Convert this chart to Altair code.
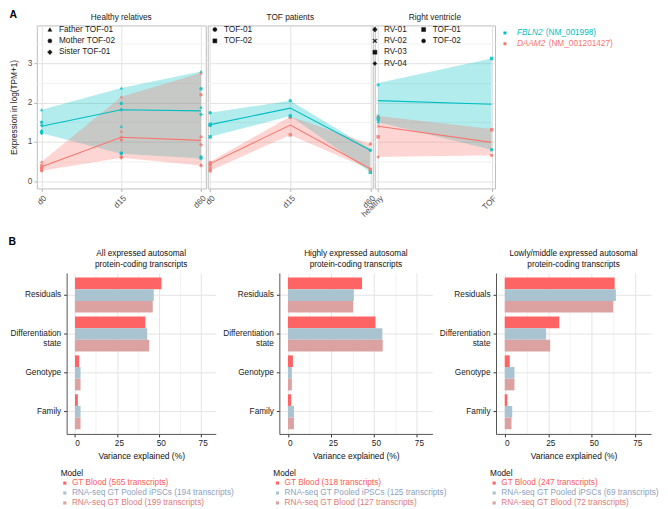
import altair as alt
import pandas as pd

FONT = "Liberation Sans"

# ---------------- Panel A data ----------------
genes = ["FBLN2", "DAAM2"]
gene_ids = ["NM_001998", "NM_001201427"]
gene_colors = ["#00BFC4", "#F8766D"]
panel_letters = ["A", "B"]

panel_titles = ["Healthy relatives", "TOF patients", "Right ventricle"]
panel_levels = [["d0", "d15", "d60"], ["d0", "d15", "d60"], ["healthy", "TOF"]]

fbln2_mean = [[1.40, 1.82, 1.79], [1.44, 1.86, 0.79], [2.05, 1.96]]
fbln2_low = [[1.22, 0.70, 0.58], [1.13, 1.66, 0.23], [1.50, 0.80]]
fbln2_high = [[1.82, 2.37, 2.79], [1.74, 2.05, 0.82], [2.50, 3.12]]
daam2_mean = [[0.37, 1.12, 1.04], [0.45, 1.43, 0.32], [1.40, 0.99]]
daam2_low = [[0.27, 0.60, 0.40], [0.27, 1.18, 0.30], [0.62, 0.66]]
daam2_high = [[0.50, 2.15, 2.75], [0.50, 1.65, 0.95], [1.66, 1.33]]

# (level, sample, FBLN2 value, DAAM2 value)
points_relatives = [
    ("d0", "Father TOF-01", 1.82, 0.50), ("d0", "Father TOF-01", 1.30, 0.30),
    ("d0", "Mother TOF-02", 1.50, 0.40), ("d0", "Mother TOF-02", 1.26, 0.27),
    ("d0", "Sister TOF-01", 1.42, 0.35), ("d0", "Sister TOF-01", 1.22, 0.32),
    ("d15", "Father TOF-01", 2.37, 2.15), ("d15", "Father TOF-01", 1.40, 1.27),
    ("d15", "Mother TOF-02", 1.98, 1.05), ("d15", "Mother TOF-02", 0.72, 0.62),
    ("d15", "Sister TOF-01", 1.82, 1.12), ("d15", "Sister TOF-01", 0.70, 0.60),
    ("d60", "Father TOF-01", 2.79, 2.75), ("d60", "Father TOF-01", 1.88, 0.42),
    ("d60", "Mother TOF-02", 2.35, 2.20), ("d60", "Mother TOF-02", 0.62, 1.13),
    ("d60", "Sister TOF-01", 1.70, 0.93), ("d60", "Sister TOF-01", 0.58, 0.40),
]
points_tof = [
    ("d0", "TOF-01", 1.74, 0.48), ("d0", "TOF-01", 1.42, 0.34),
    ("d0", "TOF-02", 1.45, 0.42), ("d0", "TOF-02", 1.13, 0.27),
    ("d15", "TOF-01", 2.05, 1.62), ("d15", "TOF-02", 1.66, 1.18),
    ("d60", "TOF-01", 0.79, 0.95), ("d60", "TOF-02", 0.23, 0.30),
]
points_rv_healthy = [
    ("healthy", "RV-01", 2.45, 1.64), ("healthy", "RV-02", 1.66, 1.40),
    ("healthy", "RV-03", 1.58, 1.13), ("healthy", "RV-04", 1.50, 0.62),
]
points_rv_tof = [
    ("TOF", "TOF-01", 3.12, 1.31), ("TOF", "TOF-02", 0.80, 0.66),
]

rel_samples = ["Father TOF-01", "Mother TOF-02", "Sister TOF-01"]
tof_samples = ["TOF-01", "TOF-02"]
rv_samples = ["RV-01", "RV-02", "RV-03", "RV-04"]

# ---------------- Panel B data ----------------
terms = ["Residuals", "Differentiation state", "Genotype", "Family"]
models = ["GT Blood", "RNA-seq GT Pooled iPSCs", "RNA-seq GT Blood"]
b_titles = [
    ["All expressed autosomal", "protein-coding transcripts"],
    ["Highly expressed autosomal", "protein-coding transcripts"],
    ["Lowly/middle expressed autosomal", "protein-coding transcripts"],
]
b_counts = [[565, 194, 199], [318, 125, 127], [247, 69, 72]]
# rows: terms, columns: models
b_values = [
    [[51.6, 47.0, 46.4], [42.0, 43.1, 44.3], [2.5, 3.3, 3.3], [1.7, 3.3, 3.3]],
    [[43.1, 38.3, 37.9], [50.9, 54.9, 55.1], [2.9, 2.3, 2.3], [1.9, 3.5, 3.5]],
    [[63.1, 63.8, 62.3], [31.3, 23.8, 26.1], [2.9, 5.6, 5.6], [1.5, 4.3, 3.9]],
]

# ---------------- styles ----------------
model_colors = ["#FF6464", "#A9C4D0", "#DCA2A2"]
model_text_colors = ["#FF5A5A", "#8DA2BE", "#E07C7C"]
X_SHAPE = "M-1,-0.7L-0.7,-1L0,-0.3L0.7,-1L1,-0.7L0.3,0L1,0.7L0.7,1L0,0.3L-0.7,1L-1,0.7L-0.3,0Z"
rel_shapes = ["triangle-up", "circle", "cross"]
tof_shapes = ["circle", "square"]
rv_shapes = ["cross", X_SHAPE, "square", "diamond"]
rv_tof_shapes = ["square", "circle"]

color_gene = alt.Color("gene:N", scale=alt.Scale(domain=genes, range=gene_colors), legend=None)
YDOM = [-0.18, 3.96]
y_vals = [0, 0.5, 1, 1.5, 2, 2.5, 3, 3.5]
half = "datum.value % 1 != 0"
grid_a = {"condition": {"test": half, "value": "#F1F1F1"}, "value": "#E2E2E2"}
AH = 164
BH = 162


def band_frame(i):
    rows = []
    sets = [(fbln2_mean, fbln2_low, fbln2_high), (daam2_mean, daam2_low, daam2_high)]
    for gi, (m, lo, hi) in enumerate(sets):
        for j, lev in enumerate(panel_levels[i]):
            rows.append({"level": lev, "gene": genes[gi], "mean": m[i][j],
                         "low": lo[i][j], "high": hi[i][j]})
    return pd.DataFrame(rows)


def point_frame(pts):
    rows = []
    for lev, s, f, d in pts:
        rows.append({"level": lev, "sample": s, "gene": genes[0], "value": f})
        rows.append({"level": lev, "sample": s, "gene": genes[1], "value": d})
    return pd.DataFrame(rows)


def y_axis_a(first):
    if first:
        return alt.Axis(values=y_vals,
                        labelExpr="datum.value % 1 == 0 ? format(datum.value, 'd') : ''",
                        title="Expression in log(TPM+1)", domain=False, tickSize=3,
                        tickColor={"condition": {"test": half, "value": "transparent"}, "value": "#B3B3B3"},
                        gridColor=grid_a, labelFontSize=8.3, labelColor="#4D4D4D", labelPadding=2,
                        titleFontSize=8.3, titleFontWeight="normal", titleColor="#1A1A1A",
                        titlePadding=6, minExtent=12)
    return alt.Axis(values=y_vals, labels=False, ticks=False, domain=False, title=None,
                    gridColor=grid_a)


def shape_legend(x):
    return alt.Legend(title=None, orient="none", legendX=x, legendY=0, direction="vertical",
                      symbolSize=16, symbolFillColor="#111111", symbolStrokeColor="#111111",
                      symbolStrokeWidth=0.5, symbolOpacity=1, labelFontSize=8.3,
                      labelColor="#1A1A1A", labelOffset=5, rowPadding=2.4)


def make_panel(i, width, pad, point_sets):
    levels = panel_levels[i]
    bands = band_frame(i)
    x = alt.X("level:N", scale=alt.Scale(type="point", domain=levels, padding=pad),
              axis=alt.Axis(title=None, labelAngle=315, grid=True, gridColor="#E2E2E2",
                            domain=False, tickSize=3, tickColor="#B3B3B3", labelFontSize=8.3,
                            labelColor="#4D4D4D", labelPadding=2))
    ysc = alt.Scale(domain=YDOM, nice=False, zero=False)
    yax = y_axis_a(i == 0)
    area = alt.Chart(bands).mark_area(opacity=0.3).encode(
        x=x, y=alt.Y("low:Q", scale=ysc, axis=yax, stack=None), y2="high:Q", color=color_gene)
    line = alt.Chart(bands).mark_line(strokeWidth=1.1).encode(
        x=x, y=alt.Y("mean:Q", scale=ysc, axis=yax), color=color_gene)
    layers = [area, line]
    for pts, samples, shapes, lx in point_sets:
        layers.append(
            alt.Chart(point_frame(pts)).mark_point(filled=True, size=12, opacity=0.85).encode(
                x=x, y=alt.Y("value:Q", scale=ysc, axis=yax), color=color_gene,
                shape=alt.Shape("sample:N", scale=alt.Scale(domain=samples, range=shapes),
                                legend=shape_legend(lx))))
    ch = alt.layer(*layers)
    if len(point_sets) > 1:
        ch = ch.resolve_scale(shape="independent").resolve_legend(shape="independent")
    return ch.properties(
        width=width, height=AH,
        title=alt.TitleParams(panel_titles[i], fontSize=8.3, fontWeight="normal",
                              color="#1A1A1A", offset=4),
        view=alt.ViewBackground(stroke="#BDBDBD", strokeWidth=1))


p1 = make_panel(0, 170, 0.06, [(points_relatives, rel_samples, rel_shapes, 9)])
p2 = make_panel(1, 166, 0.03, [(points_tof, tof_samples, tof_shapes, 3)])
p3 = make_panel(2, 121, 0.03, [(points_rv_healthy, rv_samples, rv_shapes, -4),
                               (points_rv_tof, tof_samples, rv_tof_shapes, 45)])

# gene legend (italic gene symbol + transcript id)
gl = pd.DataFrame({"gene": genes, "gid": ["(" + g + ")" for g in gene_ids]})
gy = alt.Y("gene:N", sort=genes, axis=None,
           scale=alt.Scale(type="point", domain=genes, padding=0.7))
gdots = alt.Chart(gl).mark_square(size=9, opacity=1).encode(x=alt.value(8), y=gy, color=color_gene)
gnames = alt.Chart(gl).mark_text(align="left", baseline="middle", fontStyle="italic",
                                 fontSize=8.3).encode(x=alt.value(20), y=gy, color=color_gene,
                                                      text="gene:N")
gid1 = alt.Chart(gl).transform_filter(alt.datum.gene == genes[0]).mark_text(
    align="left", baseline="middle", fontSize=8.3).encode(x=alt.value(49), y=gy,
                                                           color=color_gene, text="gid:N")
gid2 = alt.Chart(gl).transform_filter(alt.datum.gene == genes[1]).mark_text(
    align="left", baseline="middle", fontSize=8.3).encode(x=alt.value(52), y=gy,
                                                           color=color_gene, text="gid:N")
glegend = alt.layer(gdots, gnames, gid1, gid2).properties(
    width=160, height=26, view=alt.ViewBackground(stroke="transparent"))

# ---------------- Panel B ----------------
minor = "datum.value % 25 != 0"
x_axis_b = alt.Axis(values=[0, 12.5, 25, 37.5, 50, 62.5, 75],
                    labelExpr="datum.value % 25 == 0 ? datum.label : ''",
                    title="Variance explained (%)",
                    tickColor={"condition": {"test": minor, "value": "transparent"}, "value": "#333333"},
                    gridColor={"condition": {"test": minor, "value": "#F2F2F2"}, "value": "#E4E4E4"},
                    domainColor="#555555", tickSize=3, labelFontSize=8.3, labelColor="#222222",
                    titleFontSize=8.5, titleFontWeight="normal", titleColor="#111111",
                    labelOffset=2, labelPadding=2, titlePadding=4)


def y_axis_b(k):
    return alt.Axis(title=None,
                    labelExpr="datum.value == 'Differentiation state' ? ['Differentiation', 'state'] : datum.value",
                    labelLineHeight=10, bandPosition=0.5, grid=True, gridColor="#E4E4E4",
                    domainColor="#555555", tickColor="#333333", tickSize=3, labelFontSize=8.3,
                    labelColor="#222222", labelPadding=3, minExtent=58 if k == 0 else 30)


def make_b(k, width):
    labels = [f"{m} ({c} transcripts)" for m, c in zip(models, b_counts[k])]
    rows = []
    for ti, t in enumerate(terms):
        for mi in range(3):
            rows.append({"term": t, "mname": models[mi], "model": labels[mi],
                         "value": b_values[k][ti][mi]})
    df = pd.DataFrame(rows)
    lc_expr = "datum.value == '%s' ? '%s' : (datum.value == '%s' ? '%s' : '%s')" % (
        labels[0], model_text_colors[0], labels[1], model_text_colors[1], model_text_colors[2])
    leg = alt.Legend(title="Model", orient="none", legendX=-6, legendY=BH + 35,
                     direction="vertical", symbolType="square", symbolSize=10,
                     symbolStrokeWidth=0, labelFontSize=8.3, titleFontSize=8.3,
                     titleFontWeight="normal", titleColor="#111111", titlePadding=2,
                     rowPadding=1, labelOffset=3, labelLimit=220,
                     labelColor=alt.ExprRef(expr=lc_expr))
    bars = alt.Chart(df).mark_bar().encode(
        x=alt.X("value:Q", scale=alt.Scale(domain=[-5, 84], nice=False, zero=False), axis=x_axis_b),
        y=alt.Y("term:N", sort=terms,
                scale=alt.Scale(domain=terms, paddingInner=0.1, paddingOuter=0.12), axis=y_axis_b(k)),
        yOffset=alt.YOffset("mname:N", sort=models,
                            scale=alt.Scale(domain=models, paddingInner=0, paddingOuter=0)),
        color=alt.Color("model:N", sort=labels,
                        scale=alt.Scale(domain=labels, range=model_colors), legend=leg),
    )
    return bars.properties(
        width=width, height=BH,
        title=alt.TitleParams(b_titles[k], fontSize=8.3, fontWeight="normal", color="#111111",
                              anchor="middle", offset=5, lineHeight=10.5),
        view=alt.ViewBackground(stroke="transparent"))


b1 = make_b(0, 150)
b2 = make_b(1, 154)
b3 = make_b(2, 156)

rowA = alt.hconcat(p1, p2, p3, glegend, spacing=2, bounds="flush").resolve_scale(
    x="independent", y="independent", shape="independent").resolve_legend(shape="independent")
rowB_inner = alt.hconcat(b1, b2, b3, spacing=64, bounds="flush").resolve_scale(
    color="independent", yOffset="independent").resolve_legend(color="independent")
# invisible spacer so that row B's layout origin sits at the same x as row A's
spacer = alt.Chart(pd.DataFrame({"t": [""]})).mark_text().encode(text="t:N").properties(
    width=1, height=1, view=alt.ViewBackground(stroke="transparent"))
rowB = alt.hconcat(spacer, rowB_inner, spacing=29, bounds="flush")

letter_style = dict(anchor="start", fontSize=10.5, fontWeight="bold", color="black")
wrapA = alt.vconcat(rowA, title=alt.TitleParams(panel_letters[0], offset=-8, **letter_style))
wrapB = alt.vconcat(rowB, title=alt.TitleParams(panel_letters[1], offset=1, **letter_style))

chart = alt.vconcat(wrapA, wrapB, spacing=18).resolve_scale(color="independent").properties(
    padding={"left": 0, "top": 0, "right": 0, "bottom": 0}
).configure(font=FONT)

chart.save("out.html", embed_options={"renderer": "svg", "actions": False})
